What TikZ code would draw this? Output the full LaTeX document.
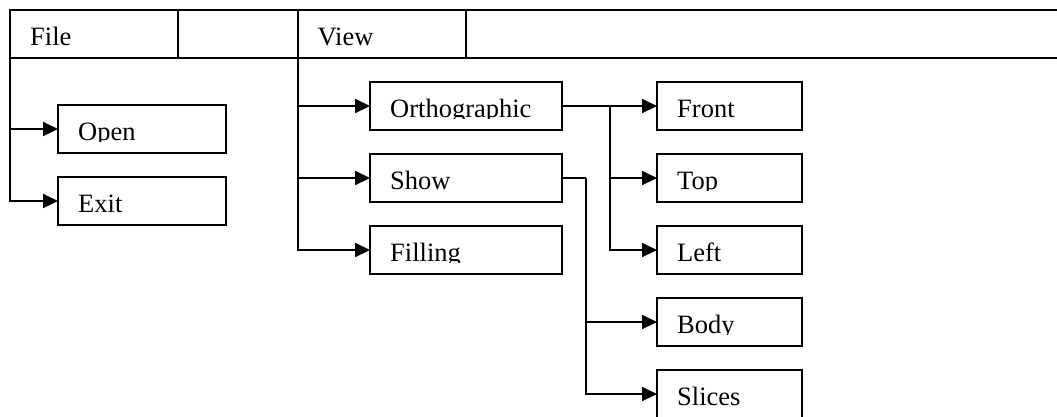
\documentclass[tikz,border=0pt]{standalone}
\usepackage{fontspec}
\setmainfont{Liberation Serif}
\usetikzlibrary{arrows.meta}
\tikzset{
  menu/.style={draw, line width=2.1pt, outer sep=0pt, inner sep=0pt,
               anchor=north west, minimum height=48pt},
  colA/.style={menu, minimum width=168pt},
  colB/.style={menu, minimum width=192pt},
  colC/.style={menu, minimum width=145pt},
  cell/.style={draw, line width=1.7pt, outer sep=0pt, inner sep=0pt,
               anchor=north west, minimum height=48pt},
  caption/.style={anchor=base west, inner sep=0pt,
                  font=\fontsize{26.5pt}{30pt}\selectfont},
  conn/.style={line width=2.1pt, -{Triangle[length=15pt,width=14pt]}},
  wire/.style={line width=1.9pt},
  thinwire/.style={line width=1.4pt},
}
% text of a menu entry; its descenders are trimmed by the entry's frame
\newcommand\itemtext[3]{%
  \begin{scope}
    \clip (#1.north west) rectangle ([yshift=-36.5pt]#1.north east);
    \node[caption] (#2) at ([xshift=20pt,yshift=-35pt]#1.north west) {#3};
  \end{scope}}
\begin{document}
\begin{tikzpicture}[x=1pt,y=-1pt]
\useasboundingbox (0,0) rectangle (1057,416);

% menu bar
\node[cell, minimum width=168pt] (file) at (10,10) {};
\node[cell, minimum width=120pt] (gap)  at (178,10) {};
\node[cell, minimum width=168pt] (view) at (298,10) {};
\coordinate (barNE) at (1057,10);
\coordinate (barSE) at (1057,58);
\draw[line width=1.7pt] (view.north east) -- (barNE);
\draw[line width=1.7pt] (view.south east) -- (barSE);
\node[caption] (file-t) at ([xshift=20pt,yshift=-35.7pt]file.north west) {File};
\node[caption] (view-t) at ([xshift=19.5pt,yshift=-35.7pt]view.north west) {View};

% File menu
\node[colA] (open) at (58,105) {};
\node[colA] (exit) at (58,177) {};
\itemtext{open}{open-t}{Open}
\itemtext{exit}{exit-t}{Exit}

% View menu
\node[colB] (ortho)   at (370,82)  {};
\node[colB] (show)    at (370,154) {};
\node[colB] (filling) at (370,226) {};
\itemtext{ortho}{ortho-t}{Orthographic}
\itemtext{show}{show-t}{Show}
\itemtext{filling}{filling-t}{Filling}

% sub-menus
\node[colC] (front)  at (657,82)  {};
\node[colC] (top)    at (657,154) {};
\node[colC] (left)   at (657,226) {};
\node[colC] (body)   at (657,298) {};
\node[colC] (slices) at (657,370) {};
\itemtext{front}{front-t}{Front}
\itemtext{top}{top-t}{Top}
\itemtext{left}{left-t}{Left}
\itemtext{body}{body-t}{Body}
\itemtext{slices}{slices-t}{Slices}

% File connectors
\draw[conn] (file.south west) |- (exit.west);
\draw[conn] (file.south west |- open.west) -- (open.west);

% View connectors
\draw[conn] (view.south west) |- (filling.west);
\draw[conn] (view.south west |- ortho.west) -- (ortho.west);
\draw[conn] (view.south west |- show.west) -- (show.west);

% Orthographic branch
\coordinate (oj) at (610,106);
\draw[thinwire] (ortho.east) -- (oj);
\draw[conn] (oj) -- (front.west);
\draw[conn] (oj) |- (left.west);
\draw[conn] (oj |- top.west) -- (top.west);

% Show branch
\coordinate (sj) at (586,178);
\draw[wire] (show.east) -- (sj);
\draw[conn] (sj) |- (slices.west);
\draw[conn] (sj |- body.west) -- (body.west);
\end{tikzpicture}
\end{document}
